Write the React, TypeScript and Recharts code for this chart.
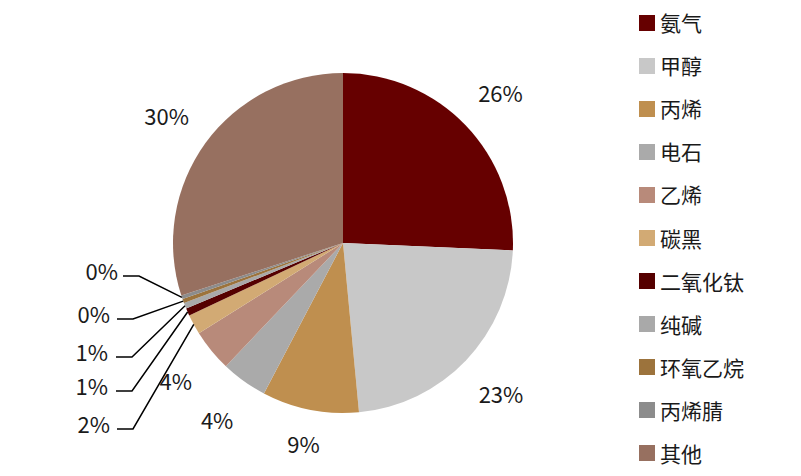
import React from 'react';
import { PieChart, Pie, Cell, Legend } from 'recharts';

const categories = ['氨气', '甲醇', '丙烯', '电石', '乙烯', '碳黑', '二氧化钛', '纯碱', '环氧乙烷', '丙烯腈', '其他'];
const shares = [25.7, 22.8, 9.2, 4.4, 4.0, 1.9, 0.7, 0.55, 0.4, 0.35, 30.0];
const colors = ['#660000', '#C8C8C8', '#BF8F4F', '#AAAAAA', '#B88A7A', '#D2AA74', '#550000', '#A9A9A9', '#9C733C', '#8C8C8C', '#977060'];

// stacked call-out labels for the thin slices (index -> line y, elbow x, text right x)
const calloutIndex = [5, 6, 7, 8, 9];
const calloutLineY = [429, 391, 357, 319, 276];
const calloutElbowX = [133, 132, 132, 133, 139];
const calloutTextX = [110, 108, 108, 110, 118];
// extra label distance beyond the rim, per slice
const labelGap = [48, 48, 34, 46, 46, 0, 0, 0, 0, 0, 48];

const data = categories.map((name, i) => ({ name, value: shares[i] }));

const FONT = '"Noto Sans CJK SC", "Noto Sans", sans-serif';
const RAD = Math.PI / 180;

const renderLabel = (props: any) => {
  const { cx, cy, midAngle, outerRadius, percent, index } = props;
  const text = `${Math.round(percent * 100)}%`;
  const k = calloutIndex.indexOf(index);
  if (k >= 0) {
    const sx = cx + outerRadius * Math.cos(-midAngle * RAD);
    const sy = cy + outerRadius * Math.sin(-midAngle * RAD);
    const ly = calloutLineY[k];
    const ex = calloutElbowX[k];
    return (
      <g key={`lbl-${index}`}>
        <polyline points={`${sx},${sy} ${ex},${ly} ${ex - 16},${ly}`} fill="none" stroke="#000" strokeWidth={1.5} />
        <text x={calloutTextX[k]} y={ly - 6} textAnchor="end" dominantBaseline="central" fontSize={22} fill="#1a1a1a" fontFamily={FONT}>
          {text}
        </text>
      </g>
    );
  }
  const r = outerRadius + labelGap[index];
  const x = cx + r * Math.cos(-midAngle * RAD);
  const y = cy + r * Math.sin(-midAngle * RAD);
  return (
    <text key={`lbl-${index}`} x={x} y={y} textAnchor="middle" dominantBaseline="central" fontSize={22} fill="#1a1a1a" fontFamily={FONT}>
      {text}
    </text>
  );
};

const renderLegend = () => (
  <div style={{ fontFamily: FONT }}>
    {categories.map((name, i) => (
      <div key={name} style={{ height: 43.1, display: 'flex', alignItems: 'center' }}>
        <span style={{ width: 16, height: 16, background: colors[i], display: 'inline-block', marginRight: 5 }} />
        <span style={{ fontSize: 21, color: '#1a1a1a', lineHeight: '21px' }}>{name}</span>
      </div>
    ))}
  </div>
);

export default function App() {
  return (
    <div style={{ position: 'absolute', left: 0, top: 0, width: 801, height: 476, background: '#fff' }}>
      <PieChart width={801} height={476} margin={{ top: 0, right: 0, bottom: 0, left: 0 }}>
        <Pie
          data={data}
          dataKey="value"
          nameKey="name"
          cx={343}
          cy={243}
          outerRadius={170}
          startAngle={90}
          endAngle={-270}
          stroke="none"
          label={renderLabel}
          labelLine={false}
          isAnimationActive={false}
        >
          {data.map((d, i) => (
            <Cell key={d.name} fill={colors[i]} />
          ))}
        </Pie>
        <Legend
          layout="vertical"
          content={renderLegend}
          wrapperStyle={{ position: 'absolute', left: 639, top: 1, width: 160 }}
        />
      </PieChart>
    </div>
  );
}
